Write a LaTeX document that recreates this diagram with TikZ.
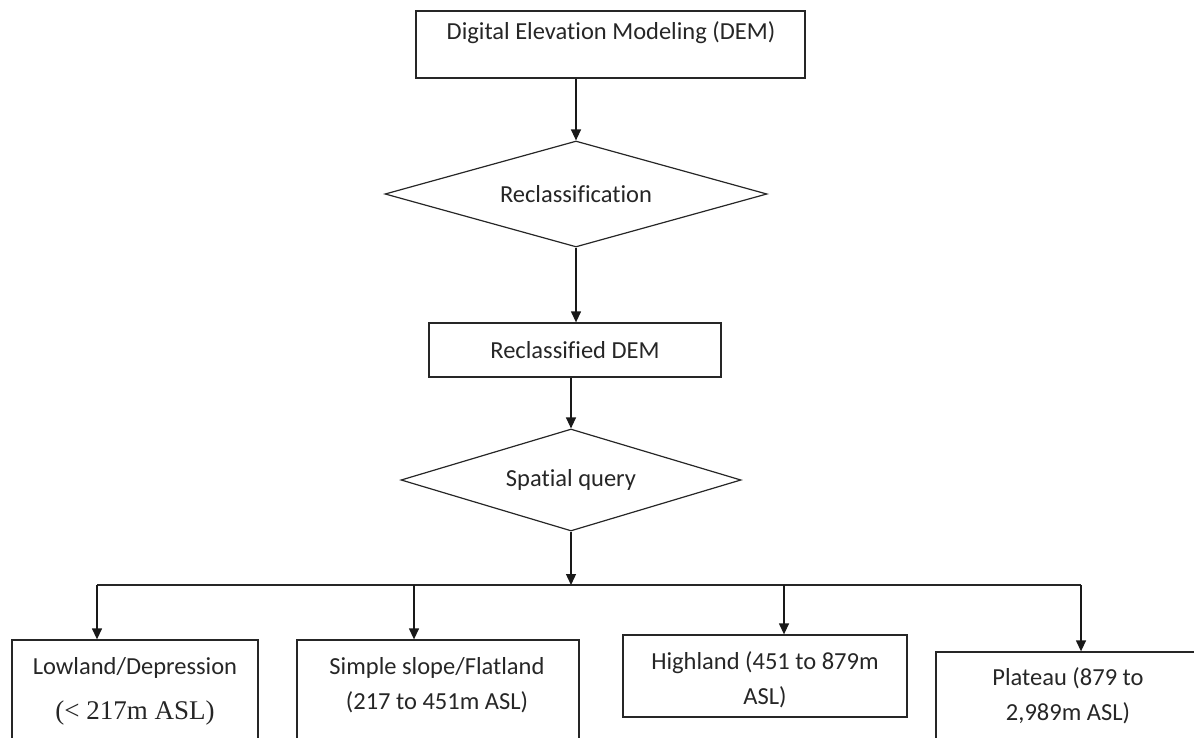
\documentclass[tikz,border=0pt]{standalone}
\usepackage{fontspec}
\setmainfont{Carlito}[Ligatures={NoCommon}]
\newfontfamily\timesf{Liberation Serif}
\usetikzlibrary{shapes.geometric,arrows.meta,calc}
\begin{document}
\begin{tikzpicture}[x=1pt,y=-1pt,
  box/.style={draw=black!85,line width=1.3pt,inner sep=0pt},
  dia/.style={draw=black!85,diamond,line width=1.2pt,inner sep=0pt,aspect=3.5},
  txt/.style={align=center,inner sep=0pt,text=black!85},
  arr/.style={line width=1.3pt,draw=black!90,-{Triangle[width=10pt,length=11pt]}},
  bus/.style={line width=1.3pt,draw=black!85},
  every node/.style={font=\fontsize{24.5}{35}\selectfont}]
\useasboundingbox (0,0) rectangle (1194,738);
\clip (0,0) rectangle (1194,738);

% top box
\node[box,minimum width=389,minimum height=67] (dem) at (610.5,44.5) {};
\node[txt] (demlbl) at (611,33) {Digital Elevation Modeling (DEM)};

% reclassification diamond
\node[dia,minimum width=382,minimum height=106,text=black!85] (rc) at (576,194) {Reclassification};

% reclassified DEM
\node[box,minimum width=292,minimum height=54,text=black!85] (rdem) at (575,350) {Reclassified DEM};

% spatial query diamond
\node[dia,minimum width=340,minimum height=102,text=black!85] (sq) at (571,480) {Spatial query};

% bottom boxes
\node[box,minimum width=246,minimum height=130] (low) at (135,705) {};
\node[txt] (lowa) at (135,668) {Lowland/Depression};
\node[txt,font=\timesf\fontsize{27}{30}\selectfont] (lowb) at (135,713) {(< 217m ASL)};

\node[box,minimum width=282,minimum height=130] (ss) at (438,705) {};
\node[txt] (ssl) at (437,685) {Simple slope/Flatland\\(217 to 451m ASL)};

\node[box,minimum width=284,minimum height=82] (hl) at (765,676) {};
\node[txt] (hll) at (765,680) {Highland (451 to 879m\\ASL)};

\node[box,minimum width=264,minimum height=130] (pl) at (1068,717) {};
\node[txt] (pll) at (1068,696) {Plateau (879 to\\2,989m ASL)};

% connectors
\draw[arr] (dem.south -| rc.north) -- (rc.north);
\draw[arr] (rc.south) -- (rc.south |- rdem.north);
\draw[arr] (rdem.south -| sq.north) -- (sq.north);

\coordinate (bl) at (97,585);
\coordinate (b2) at (414,585);
\coordinate (b3) at (784,585);
\coordinate (br) at (1081,585);
\draw[bus] (bl) -- (br);
\draw[arr] (sq.south) -- (sq.south |- bl);
\draw[arr] (bl) -- (bl |- low.north);
\draw[arr] (b2) -- (b2 |- ss.north);
\draw[arr] (b3) -- (b3 |- hl.north);
\draw[arr] (br) -- (br |- pl.north);
\end{tikzpicture}
\end{document}
